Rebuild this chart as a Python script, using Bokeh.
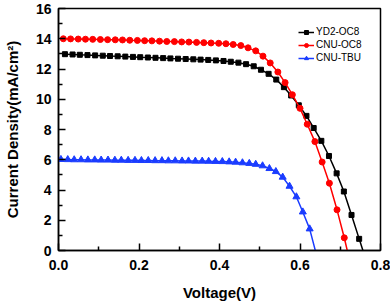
from bokeh.plotting import figure
from bokeh.models import FixedTicker, PrintfTickFormatter, Range1d
from bokeh.embed import file_html
from bokeh.resources import INLINE

# YD2-OC8 (black squares)
v_yd2 = [0.016, 0.035, 0.053, 0.072, 0.091, 0.110, 0.128, 0.147, 0.166, 0.185,
         0.203, 0.222, 0.241, 0.260, 0.278, 0.297, 0.316, 0.335, 0.353, 0.372,
         0.391, 0.410, 0.428, 0.447, 0.466, 0.485, 0.503, 0.522, 0.541, 0.560,
         0.578, 0.597, 0.616, 0.634, 0.653, 0.672, 0.691, 0.709, 0.728, 0.747, 0.766]
j_yd2 = [12.98, 12.96, 12.94, 12.92, 12.90, 12.88, 12.86, 12.84, 12.82, 12.80,
         12.78, 12.76, 12.74, 12.72, 12.70, 12.68, 12.66, 12.64, 12.62, 12.60,
         12.57, 12.53, 12.48, 12.42, 12.32, 12.18, 11.95, 11.68, 11.30, 10.80,
         10.25, 9.60, 8.90, 8.10, 7.25, 6.25, 5.10, 3.90, 2.35, 0.77, -0.80]

# CNU-OC8 (red circles)
v_oc8 = [0.012, 0.030, 0.049, 0.067, 0.085, 0.104, 0.122, 0.141, 0.159, 0.177,
         0.196, 0.214, 0.232, 0.251, 0.269, 0.288, 0.306, 0.324, 0.343, 0.361,
         0.379, 0.398, 0.416, 0.434, 0.453, 0.471, 0.490, 0.508, 0.526, 0.545,
         0.563, 0.581, 0.600, 0.618, 0.637, 0.655, 0.673, 0.692, 0.710, 0.728]
j_oc8 = [14.00, 13.99, 13.98, 13.97, 13.96, 13.95, 13.94, 13.93, 13.92, 13.90,
         13.89, 13.87, 13.86, 13.84, 13.82, 13.81, 13.79, 13.78, 13.76, 13.74,
         13.72, 13.70, 13.67, 13.62, 13.55, 13.40, 13.20, 12.85, 12.40, 11.80,
         11.10, 10.30, 9.40, 8.35, 7.20, 5.85, 4.45, 2.69, 0.84, -1.20]

# CNU-TBU (blue triangles)
v_tbu = [0.006, 0.023, 0.039, 0.056, 0.073, 0.090, 0.106, 0.123, 0.140, 0.156,
         0.173, 0.190, 0.206, 0.223, 0.240, 0.257, 0.273, 0.290, 0.307, 0.323,
         0.340, 0.357, 0.373, 0.390, 0.407, 0.424, 0.440, 0.457, 0.474, 0.490,
         0.507, 0.524, 0.540, 0.557, 0.574, 0.591, 0.607, 0.624, 0.641]
j_tbu = [6.02, 6.01, 6.00, 6.00, 5.99, 5.99, 5.98, 5.98, 5.97, 5.97,
         5.96, 5.96, 5.95, 5.95, 5.94, 5.94, 5.93, 5.93, 5.92, 5.92,
         5.91, 5.91, 5.90, 5.89, 5.88, 5.86, 5.84, 5.80, 5.76, 5.70,
         5.60, 5.42, 5.22, 4.85, 4.25, 3.55, 2.55, 1.43, -0.30]

x_ticks = [0.0, 0.2, 0.4, 0.6, 0.8]
x_minor = [0.1, 0.3, 0.5, 0.7]
y_ticks = [0, 2, 4, 6, 8, 10, 12, 14, 16]
y_minor = [1, 3, 5, 7, 9, 11, 13, 15]

x_title = "Voltage(V)"
y_title = "Current Density(mA/cm²)"

FONT = "Liberation Sans"

p = figure(width=390, height=305, x_range=Range1d(0, 0.8), y_range=Range1d(0, 16),
           output_backend="svg", toolbar_location=None,
           min_border_left=55, min_border_right=10, min_border_top=8, min_border_bottom=55,
           x_axis_label=x_title, y_axis_label=y_title)

p.xgrid.visible = False
p.ygrid.visible = False
p.outline_line_color = "black"
p.outline_line_width = 1.5
p.outline_line_alpha = 1.0
p.background_fill_color = "white"
p.border_fill_color = "white"

series = [
    (v_yd2, j_yd2, "#000000", "square", 5, "YD2-OC8"),
    (v_oc8, j_oc8, "#ff0000", "circle", 6, "CNU-OC8"),
    (v_tbu, j_tbu, "#1a3cff", "triangle", 7, "CNU-TBU"),
]
for v, j, c, m, s, lab in series:
    p.line(v, j, line_color=c, line_width=1.5, legend_label=lab)
    p.scatter(v, j, marker=m, size=s, fill_color=c, line_color=c, legend_label=lab)

p.xaxis.ticker = FixedTicker(ticks=x_ticks, minor_ticks=x_minor)
p.yaxis.ticker = FixedTicker(ticks=y_ticks, minor_ticks=y_minor)
p.xaxis.formatter = PrintfTickFormatter(format="%.1f")
p.yaxis.formatter = PrintfTickFormatter(format="%d")

for ax in (p.xaxis[0], p.yaxis[0]):
    ax.axis_line_width = 1.5
    ax.axis_line_color = "black"
    ax.major_tick_in = 7
    ax.major_tick_out = 0
    ax.minor_tick_in = 4
    ax.minor_tick_out = 0
    ax.major_tick_line_width = 1.5
    ax.minor_tick_line_width = 1.5
    ax.major_tick_line_color = "black"
    ax.minor_tick_line_color = "black"
    ax.major_label_text_font = FONT
    ax.major_label_text_font_style = "bold"
    ax.major_label_text_font_size = "14px"
    ax.major_label_text_color = "black"
    ax.axis_label_text_font = FONT
    ax.axis_label_text_font_style = "bold"
    ax.axis_label_text_font_size = "15px"
    ax.axis_label_text_color = "black"

p.xaxis.major_label_standoff = 9
p.xaxis.axis_label_standoff = 11
p.yaxis.major_label_standoff = 7
p.yaxis.axis_label_standoff = 12

leg = p.legend[0]
leg.location = (238, 185)
leg.glyph_width = 16
leg.glyph_height = 10
leg.label_height = 10
leg.label_standoff = 2
leg.spacing = 2
leg.padding = 2
leg.margin = 0
leg.border_line_alpha = 0
leg.background_fill_alpha = 0
leg.label_text_font = FONT
leg.label_text_font_size = "10px"
leg.label_text_color = "black"

open("out.html", "w").write(file_html(p, INLINE))
